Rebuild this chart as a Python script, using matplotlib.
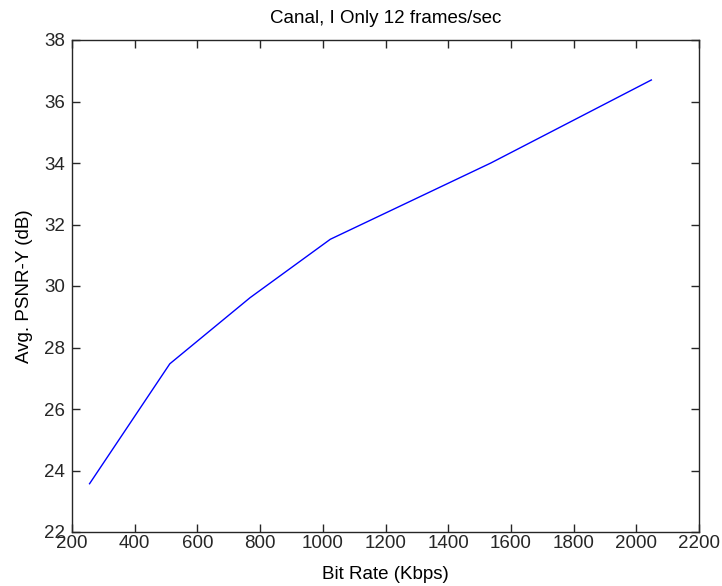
import numpy as np
import matplotlib
matplotlib.use('Agg')
import matplotlib.pyplot as plt

# ------------------------ DATA ------------------------ #
bitRate = [256, 512, 768, 1024, 1536, 2048]  # Kbps
psnrY = [23.57, 27.47, 29.62, 31.52, 34.00, 36.70]  # dB

xTicks = [200, 400, 600, 800, 1000, 1200, 1400, 1600, 1800, 2000, 2200]
yTicks = [22, 24, 26, 28, 30, 32, 34, 36, 38]
# ------------------------------------------------------ #

plt.rcParams['font.family'] = ['Liberation Sans', 'DejaVu Sans']
fontSize = 13.5

fig = plt.figure(figsize=(7.22, 5.86), dpi=100)
ax = fig.add_axes([72 / 722.0, 1 - 532 / 586.0, 627 / 722.0, 492 / 586.0])

ax.plot(bitRate, psnrY, color='#0000ff', linewidth=1.0)

ax.set_xlim(200, 2200)
ax.set_ylim(22, 38)
ax.set_xticks(xTicks)
ax.set_yticks(yTicks)

ax.tick_params(direction='in', length=6, width=1.0, top=True, right=True,
               labelsize=fontSize, colors='#262626')
ax.tick_params(axis='x', pad=2)
ax.tick_params(axis='y', pad=5)
for s in ax.spines.values():
    s.set_linewidth(1.0)
    s.set_color('#262626')

ax.set_title('Canal, I Only 12 frames/sec', fontsize=fontSize, pad=12)
ax.set_xlabel('Bit Rate (Kbps)', fontsize=fontSize, labelpad=10)
ax.set_ylabel('Avg. PSNR-Y (dB)', fontsize=fontSize, labelpad=8)

fig.savefig('out.png', dpi=100)
